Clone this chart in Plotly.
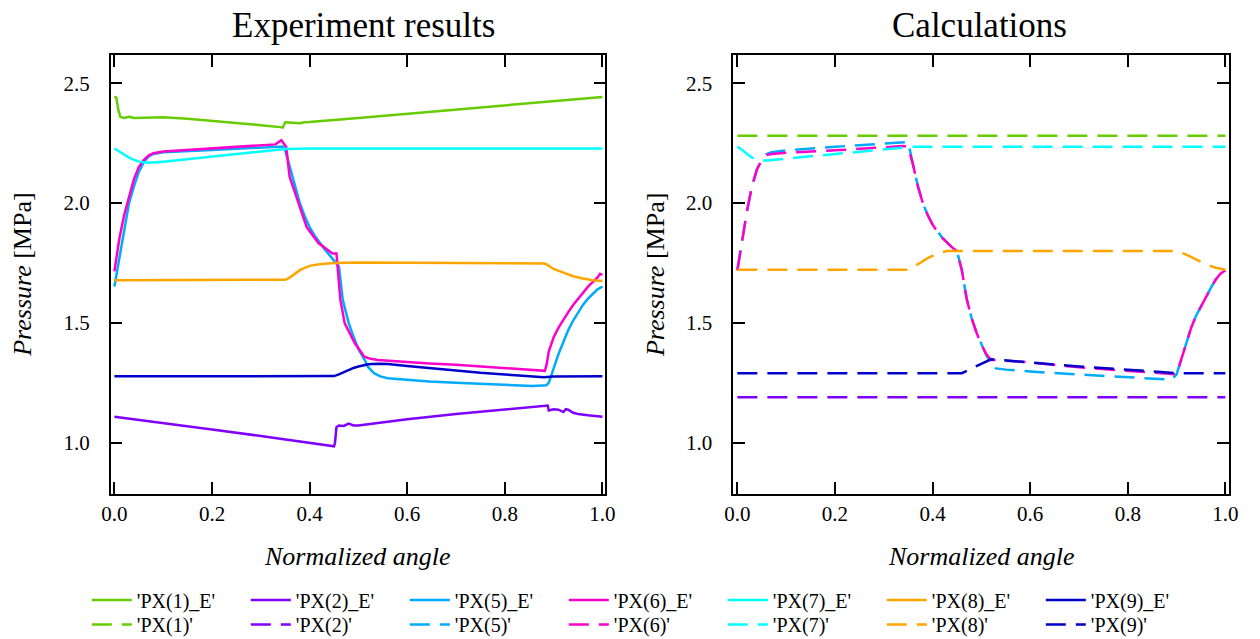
import plotly.graph_objects as go

W, H = 1260, 639

# ---------------- data ----------------
# Experiment results (left panel)
px1_e_x = [0.0, 0.004, 0.008, 0.012, 0.02, 0.03, 0.04, 0.06, 0.10, 0.15, 0.20, 0.25, 0.30, 0.34, 0.345,
           0.35, 0.36, 0.37, 0.38, 0.39, 0.40, 0.50, 0.60, 0.70, 0.80, 0.90, 1.0]
px1_e_y = [2.445, 2.44, 2.39, 2.36, 2.355, 2.36, 2.355, 2.357, 2.358, 2.352, 2.344, 2.334, 2.325, 2.317, 2.315,
           2.337, 2.336, 2.332, 2.333, 2.337, 2.338, 2.355, 2.372, 2.39, 2.407, 2.425, 2.443]

px2_e_x = [0.0, 0.1, 0.2, 0.3, 0.4, 0.44, 0.45, 0.452, 0.455, 0.46, 0.47, 0.48, 0.485, 0.49, 0.50, 0.55,
           0.60, 0.70, 0.80, 0.85, 0.885, 0.888, 0.89, 0.90, 0.91, 0.92, 0.925, 0.93, 0.94, 0.95, 0.97, 1.0]
px2_e_y = [1.108, 1.083, 1.055, 1.028, 1.0, 0.99, 0.985, 1.0, 1.065, 1.072, 1.07, 1.08, 1.075, 1.072, 1.072, 1.085,
           1.098, 1.12, 1.14, 1.15, 1.155, 1.155, 1.135, 1.14, 1.138, 1.128, 1.14, 1.138, 1.125, 1.12, 1.115, 1.108]

px5_e_x = [0.0, 0.01, 0.02, 0.03, 0.04, 0.05, 0.06, 0.07, 0.08, 0.10, 0.20, 0.30, 0.34, 0.345, 0.35, 0.36,
           0.37, 0.38, 0.39, 0.40, 0.41, 0.42, 0.43, 0.44, 0.45, 0.46, 0.468, 0.48, 0.49, 0.50, 0.513, 0.52,
           0.532, 0.545, 0.56, 0.60, 0.645, 0.70, 0.80, 0.857, 0.885, 0.89, 0.90, 0.91, 0.92, 0.93, 0.94,
           0.95, 0.96, 0.97, 0.98, 0.99, 1.0]
px5_e_y = [1.652, 1.77, 1.90, 2.0, 2.07, 2.13, 2.17, 2.195, 2.205, 2.212, 2.222, 2.232, 2.236, 2.236, 2.22, 2.15,
           2.07, 2.0, 1.945, 1.9, 1.865, 1.835, 1.81, 1.785, 1.76, 1.735, 1.596, 1.5, 1.442, 1.39, 1.345, 1.315,
           1.29, 1.277, 1.269, 1.262, 1.255, 1.25, 1.243, 1.237, 1.24, 1.25, 1.31, 1.37, 1.42, 1.47, 1.51,
           1.545, 1.575, 1.60, 1.622, 1.64, 1.652]

px6_e_x = [0.0, 0.01, 0.02, 0.03, 0.04, 0.05, 0.06, 0.07, 0.08, 0.10, 0.15, 0.20, 0.25, 0.30, 0.33, 0.342,
           0.352, 0.359, 0.375, 0.394, 0.418, 0.44, 0.447, 0.455, 0.463, 0.472, 0.4925, 0.512, 0.525, 0.54,
           0.56, 0.60, 0.645, 0.70, 0.80, 0.855, 0.882, 0.886, 0.89, 0.895, 0.90, 0.91, 0.92, 0.93, 0.94,
           0.95, 0.96, 0.97, 0.98, 0.99, 0.995, 1.0]
px6_e_y = [1.715, 1.85, 1.95, 2.03, 2.10, 2.15, 2.18, 2.198, 2.208, 2.215, 2.222, 2.228, 2.235, 2.24, 2.245, 2.262,
           2.235, 2.11, 2.013, 1.90, 1.833, 1.80, 1.79, 1.79, 1.596, 1.498, 1.416, 1.359, 1.35, 1.345,
           1.342, 1.337, 1.331, 1.325, 1.312, 1.303, 1.30, 1.33, 1.38, 1.41, 1.44, 1.48, 1.515, 1.545, 1.575,
           1.60, 1.625, 1.65, 1.67, 1.69, 1.705, 1.70]

px7_e_x = [0.0, 0.01, 0.02, 0.03, 0.04, 0.05, 0.06, 0.07, 0.10, 0.20, 0.30, 0.35, 0.40, 0.60, 0.80, 1.0]
px7_e_y = [2.228, 2.215, 2.20, 2.19, 2.18, 2.173, 2.17, 2.168, 2.173, 2.195, 2.215, 2.226, 2.228, 2.228, 2.228, 2.228]

px8_e_x = [0.0, 0.35, 0.36, 0.37, 0.38, 0.39, 0.40, 0.42, 0.45, 0.50, 0.60, 0.70, 0.80, 0.88, 0.885, 0.90,
           0.92, 0.94, 0.96, 0.98, 1.0]
px8_e_y = [1.678, 1.68, 1.69, 1.705, 1.72, 1.73, 1.738, 1.745, 1.75, 1.752, 1.751, 1.75, 1.749, 1.748, 1.745, 1.725,
           1.71, 1.695, 1.685, 1.678, 1.675]

px9_e_x = [0.0, 0.45, 0.46, 0.47, 0.48, 0.49, 0.50, 0.51, 0.52, 0.54, 0.56, 0.60, 0.65, 0.70, 0.75, 0.80,
           0.85, 0.88, 0.90, 1.0]
px9_e_y = [1.277, 1.278, 1.285, 1.295, 1.303, 1.312, 1.318, 1.323, 1.327, 1.33, 1.328, 1.32, 1.31, 1.30, 1.292, 1.285,
           1.278, 1.273, 1.276, 1.277]

# Calculations (right panel)
px1_c_x = [0.0, 1.0]
px1_c_y = [2.281, 2.281]

px2_c_x = [0.0, 1.0]
px2_c_y = [1.19, 1.19]

px5_c_x = [0.0, 0.01, 0.02, 0.03, 0.04, 0.05, 0.06, 0.07, 0.10, 0.20, 0.30, 0.35, 0.36, 0.37, 0.38, 0.39,
           0.40, 0.41, 0.42, 0.43, 0.44, 0.45, 0.46, 0.47, 0.48, 0.49, 0.50, 0.51, 0.52, 0.53, 0.55, 0.60,
           0.70, 0.80, 0.88, 0.89, 0.90, 0.91, 0.92, 0.93, 0.94, 0.95, 0.96, 0.97, 0.98, 0.99, 1.0]
px5_c_y = [1.72, 1.85, 1.97, 2.07, 2.14, 2.18, 2.205, 2.212, 2.22, 2.235, 2.248, 2.255, 2.16, 2.07, 2.0, 1.95,
           1.91, 1.88, 1.855, 1.835, 1.815, 1.80, 1.72, 1.60, 1.52, 1.46, 1.41, 1.365, 1.33, 1.31, 1.305, 1.297,
           1.285, 1.275, 1.265, 1.263, 1.285, 1.35, 1.42, 1.48, 1.53, 1.57, 1.61, 1.645, 1.68, 1.705, 1.72]

px6_c_x = [0.0, 0.01, 0.02, 0.03, 0.04, 0.05, 0.06, 0.07, 0.10, 0.20, 0.30, 0.34, 0.35, 0.36, 0.37, 0.38,
           0.39, 0.40, 0.41, 0.42, 0.43, 0.44, 0.45, 0.46, 0.47, 0.48, 0.49, 0.50, 0.51, 0.52, 0.53, 0.60,
           0.70, 0.80, 0.88, 0.90, 0.91, 0.92, 0.93, 0.94, 0.95, 0.96, 0.97, 0.98, 0.99, 1.0]
px6_c_y = [1.72, 1.85, 1.97, 2.07, 2.14, 2.18, 2.20, 2.205, 2.21, 2.22, 2.232, 2.238, 2.235, 2.16, 2.07, 2.0,
           1.95, 1.91, 1.88, 1.855, 1.835, 1.815, 1.80, 1.72, 1.60, 1.52, 1.46, 1.41, 1.37, 1.345, 1.345, 1.335,
           1.315, 1.30, 1.288, 1.285, 1.35, 1.42, 1.48, 1.53, 1.57, 1.61, 1.645, 1.68, 1.705, 1.72]

px7_c_x = [0.0, 0.01, 0.02, 0.03, 0.04, 0.05, 0.06, 0.10, 0.20, 0.30, 0.36, 0.60, 0.80, 1.0]
px7_c_y = [2.235, 2.222, 2.205, 2.19, 2.18, 2.177, 2.178, 2.186, 2.205, 2.225, 2.235, 2.235, 2.235, 2.235]

px8_c_x = [0.0, 0.35, 0.37, 0.39, 0.41, 0.43, 0.60, 0.80, 0.90, 0.92, 0.94, 0.96, 0.98, 1.0]
px8_c_y = [1.722, 1.722, 1.745, 1.77, 1.79, 1.80, 1.80, 1.80, 1.80, 1.785, 1.765, 1.745, 1.73, 1.722]

px9_c_x = [0.0, 0.46, 0.48, 0.50, 0.52, 0.60, 0.70, 0.80, 0.90, 1.0]
px9_c_y = [1.29, 1.29, 1.31, 1.33, 1.348, 1.335, 1.318, 1.305, 1.29, 1.29]

names_e = ["'PX(1)_E'", "'PX(2)_E'", "'PX(5)_E'", "'PX(6)_E'", "'PX(7)_E'", "'PX(8)_E'", "'PX(9)_E'"]
names_c = ["'PX(1)'", "'PX(2)'", "'PX(5)'", "'PX(6)'", "'PX(7)'", "'PX(8)'", "'PX(9)'"]
colors = ["#66CC00", "#8000FF", "#00AAFF", "#FF00CC", "#00FFFF", "#FFA500", "#0000CC"]

exp_series = [(px1_e_x, px1_e_y), (px2_e_x, px2_e_y), (px5_e_x, px5_e_y), (px6_e_x, px6_e_y),
              (px7_e_x, px7_e_y), (px8_e_x, px8_e_y), (px9_e_x, px9_e_y)]
calc_series = [(px1_c_x, px1_c_y), (px2_c_x, px2_c_y), (px5_c_x, px5_c_y), (px6_c_x, px6_c_y),
               (px7_c_x, px7_c_y), (px8_c_x, px8_c_y), (px9_c_x, px9_c_y)]

FONT = "Liberation Serif, Times New Roman, serif"
fig = go.Figure()

for (xs, ys), nm, c in zip(exp_series, names_e, colors):
    fig.add_trace(go.Scatter(x=xs, y=ys, name=nm, mode="lines",
                             line=dict(color=c, width=2.5),
                             xaxis="x", yaxis="y", legend="legend"))
for (xs, ys), nm, c in zip(calc_series, names_c, colors):
    fig.add_trace(go.Scatter(x=xs, y=ys, name=nm, mode="lines",
                             line=dict(color=c, width=2.5, dash="20px,10px"),
                             xaxis="x2", yaxis="y2", legend="legend2"))

# legends are placed in container pixels; the top legend reserves the space
# below its top edge, so the paper (plot) area ends at that edge.
LEG1_TOP = 580.5     # px from the top of the figure
LEG2_TOP = 605.0
HP = LEG1_TOP        # resulting paper height in px


def px_x(p):
    return p / W


def py_paper(p):
    return 1 - p / HP


def py_cont(p):
    return 1 - p / H


axis_common = dict(showgrid=False, zeroline=False, showline=True, linecolor="black", linewidth=1.5,
                   mirror="ticks", ticks="inside", ticklen=12, tickwidth=1.5, tickcolor="black",
                   tickfont=dict(family=FONT, size=21, color="black"))

xticks = [0.0, 0.2, 0.4, 0.6, 0.8, 1.0]
yticks = [1.0, 1.5, 2.0, 2.5]

legend_common = dict(orientation="h", xanchor="left", yanchor="top", yref="container",
                     font=dict(family=FONT, size=20, color="black"),
                     bgcolor="rgba(0,0,0,0)", itemwidth=40, entrywidth=104,
                     entrywidthmode="pixels", traceorder="normal")

fig.update_layout(
    width=W, height=H,
    margin=dict(l=0, r=0, t=0, b=0),
    paper_bgcolor="white", plot_bgcolor="white",
    showlegend=True,
    xaxis=dict(domain=[px_x(103.3), px_x(605.5)], range=[-0.0075, 1.006], tickvals=xticks,
               ticktext=[f"{v:.1f}" for v in xticks], anchor="y", ticklabelstandoff=0, **axis_common),
    yaxis=dict(domain=[py_paper(494), py_paper(55)], range=[0.786, 2.618], tickvals=yticks,
               ticktext=[f"{v:.1f}" for v in yticks], anchor="x", ticklabelstandoff=15, **axis_common),
    xaxis2=dict(domain=[px_x(735.3), px_x(1238.8)], range=[-0.0085, 1.0077], tickvals=xticks,
                ticktext=[f"{v:.1f}" for v in xticks], anchor="y2", ticklabelstandoff=0, **axis_common),
    yaxis2=dict(domain=[py_paper(494), py_paper(55)], range=[0.786, 2.618], tickvals=yticks,
                ticktext=[f"{v:.1f}" for v in yticks], anchor="x2", ticklabelstandoff=15, **axis_common),
    legend=dict(x=px_x(79), y=py_cont(LEG1_TOP), **legend_common),
    legend2=dict(x=px_x(79), y=py_cont(LEG2_TOP), **legend_common),
    annotations=[
        dict(text="Experiment results", x=px_x(360), y=py_paper(26), xref="paper", yref="paper",
             xanchor="center", yanchor="middle", showarrow=False,
             font=dict(family=FONT, size=35, color="black")),
        dict(text="Calculations", x=px_x(985), y=py_paper(26), xref="paper", yref="paper",
             xanchor="center", yanchor="middle", showarrow=False,
             font=dict(family=FONT, size=35, color="black")),
        dict(text="<i>Normalized angle</i>", x=px_x(354), y=py_paper(556), xref="paper", yref="paper",
             xanchor="center", yanchor="middle", showarrow=False,
             font=dict(family=FONT, size=26, color="black")),
        dict(text="<i>Normalized angle</i>", x=px_x(987), y=py_paper(556), xref="paper", yref="paper",
             xanchor="center", yanchor="middle", showarrow=False,
             font=dict(family=FONT, size=26, color="black")),
        dict(text="<i>Pressure</i> [MPa]", x=px_x(13), y=py_paper(275), xref="paper", yref="paper",
             xanchor="center", yanchor="middle", showarrow=False, textangle=-90,
             font=dict(family=FONT, size=26, color="black")),
        dict(text="<i>Pressure</i> [MPa]", x=px_x(656), y=py_paper(275), xref="paper", yref="paper",
             xanchor="center", yanchor="middle", showarrow=False, textangle=-90,
             font=dict(family=FONT, size=26, color="black")),
    ],
)

fig.write_html("out.html")
